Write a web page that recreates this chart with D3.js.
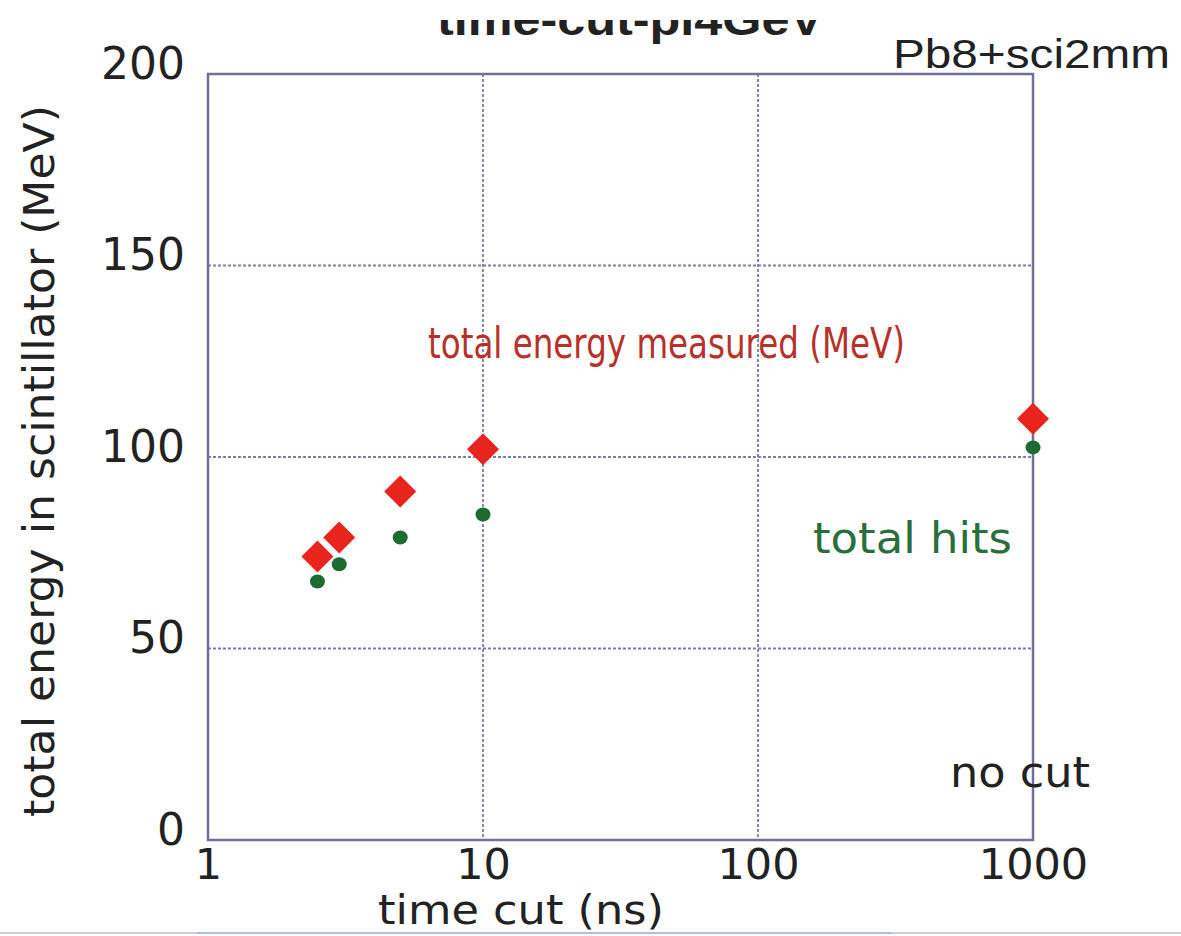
<!DOCTYPE html>
<html>
<head>
<meta charset="utf-8">
<script src="https://cdn.jsdelivr.net/npm/d3@7"></script>
<style>
  body { margin: 0; background: #fff; }
  svg { display: block; }
</style>
</head>
<body>
<svg id="chart" width="1181" height="936"></svg>
<script>
// data
var timeCuts = [2.5, 3, 5, 10, 1000];           // ns (1000 = no cut)
var energyMeasured = [74, 79, 91, 102, 110];     // red diamonds
var totalHits = [67.5, 72, 79, 85, 102.5];       // green dots
var xTicks = [1, 10, 100, 1000];
var yTicks = [0, 50, 100, 150, 200];

var svg = d3.select("#chart"),
    margin = {top: 74, right: 148, bottom: 96, left: 208},
    width = +svg.attr("width") - margin.left - margin.right,
    height = +svg.attr("height") - margin.top - margin.bottom,
    g = svg.append("g").attr("transform", "translate(" + margin.left + "," + margin.top + ")");

var font = "'DejaVu Sans', Verdana, sans-serif";
var frameColor = "#6f6f9c";
var gridColor = "#7c7cab";

var x = d3.scaleLog().domain([1, 1000]).range([0, width]);
var y = d3.scaleLinear().domain([0, 200]).range([height, 0]);

// dotted grid
g.append("g")
  .selectAll("line")
  .data(xTicks.slice(1, -1))
  .enter().append("line")
  .attr("x1", function(d) { return x(d); })
  .attr("x2", function(d) { return x(d); })
  .attr("y1", 0)
  .attr("y2", height)
  .attr("stroke", gridColor)
  .attr("stroke-width", 1.8)
  .attr("stroke-dasharray", "3,2");

g.append("g")
  .selectAll("line")
  .data(yTicks.slice(1, -1))
  .enter().append("line")
  .attr("x1", 0)
  .attr("x2", width)
  .attr("y1", function(d) { return y(d); })
  .attr("y2", function(d) { return y(d); })
  .attr("stroke", gridColor)
  .attr("stroke-width", 2.2)
  .attr("stroke-dasharray", "3,2");

// frame
g.append("rect")
  .attr("width", width)
  .attr("height", height)
  .attr("fill", "none")
  .attr("stroke", frameColor)
  .attr("stroke-width", 2.5);

// axes
var xAxis = g.append("g")
  .attr("transform", "translate(0," + height + ")")
  .call(d3.axisBottom(x).tickValues(xTicks).tickFormat(d3.format("d")).tickSize(0).tickPadding(8));

var yAxis = g.append("g")
  .call(d3.axisLeft(y).tickValues(yTicks).tickSize(0).tickPadding(23));

[xAxis, yAxis].forEach(function(ax) {
  ax.select(".domain").remove();
  ax.selectAll("text")
    .attr("font-family", font)
    .attr("font-size", 44)
    .attr("fill", "#222");
});
xAxis.selectAll("text").attr("dy", "0.72em").attr("font-size", 43);
yAxis.selectAll("text").attr("dy", "0.32em").attr("y", -10);

// total hits
g.append("g")
  .selectAll("ellipse")
  .data(timeCuts)
  .enter().append("ellipse")
  .attr("cx", function(d) { return x(d); })
  .attr("cy", function(d, i) { return y(totalHits[i]); })
  .attr("rx", 7.5)
  .attr("ry", 7)
  .attr("fill", "#1c6b32");

// total energy measured
var diamond = d3.symbol().type(d3.symbolSquare).size(512);
g.append("g")
  .selectAll("path")
  .data(timeCuts)
  .enter().append("path")
  .attr("d", diamond)
  .attr("transform", function(d, i) {
    return "translate(" + x(d) + "," + y(energyMeasured[i]) + ") rotate(45)";
  })
  .attr("fill", "#e8241c");

// annotations
function label(txt, px, py, size, color, len) {
  var t = svg.append("text")
    .attr("x", px)
    .attr("y", py)
    .attr("font-family", font)
    .attr("font-size", size)
    .attr("fill", color)
    .text(txt);
  if (len) t.attr("textLength", len).attr("lengthAdjust", "spacingAndGlyphs");
  return t;
}

label("total energy measured (MeV)", 428, 358, 42, "#b8302a", 477);
label("total hits", 813, 553, 42, "#2a6e3c", 199);
label("no cut", 950, 787, 42, "#222", 140);
label("time cut (ns)", 378, 924, 41, "#222", 286);
label("Pb8+sci2mm", 893, 68, 40, "#222", 277).attr("font-family", "'Liberation Sans', Arial, sans-serif");

svg.append("text")
  .attr("transform", "translate(54,461) rotate(-90)")
  .attr("text-anchor", "middle")
  .attr("font-family", font)
  .attr("font-size", 42)
  .attr("fill", "#222")
  .attr("textLength", 712)
  .attr("lengthAdjust", "spacingAndGlyphs")
  .text("total energy in scintillator (MeV)");

// title, clipped at the top like the original slide
svg.append("clipPath")
  .attr("id", "titleClip")
  .append("rect")
  .attr("x", 0).attr("y", 20).attr("width", 1181).attr("height", 40);

svg.append("text")
  .attr("clip-path", "url(#titleClip)")
  .attr("x", 437)
  .attr("y", 35)
  .attr("font-family", "'Liberation Sans', Arial, sans-serif")
  .attr("font-weight", "bold")
  .attr("font-size", 44)
  .attr("fill", "#222")
  .attr("textLength", 386)
  .attr("lengthAdjust", "spacingAndGlyphs")
  .text("time-cut-pi4GeV");

// slide edge at the bottom
svg.append("line")
  .attr("x1", 0).attr("x2", 1181).attr("y1", 933).attr("y2", 933)
  .attr("stroke", "#cfcfd8").attr("stroke-width", 2);
svg.append("line")
  .attr("x1", 197).attr("x2", 892).attr("y1", 933).attr("y2", 933)
  .attr("stroke", "#a9bfe6").attr("stroke-width", 2);
</script>
</body>
</html>
